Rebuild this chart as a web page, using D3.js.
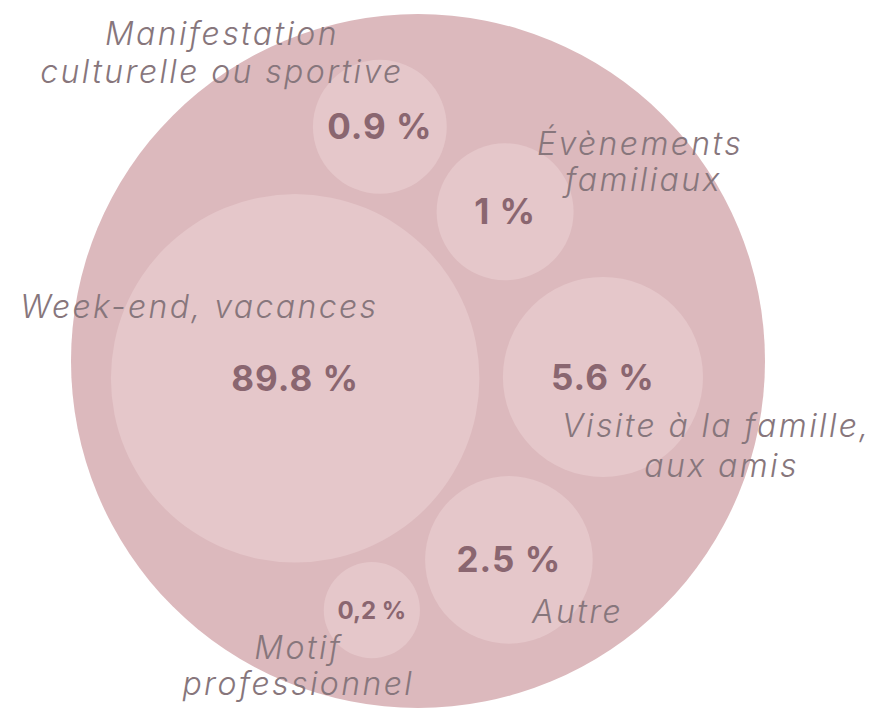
<!DOCTYPE html>
<meta charset="utf-8">
<style>

body {
  margin: 0;
  background: #fff;
}

.outer {
  fill: #dcb9bd;
}

.bubble {
  fill: #e5c7ca;
}

.value {
  font-family: Inter, "DejaVu Sans", sans-serif;
  font-weight: 700;
  fill: #8a6670;
  text-anchor: middle;
  letter-spacing: 1px;
}

.label {
  font-family: Inter, "DejaVu Sans", sans-serif;
  font-weight: 300;
  font-style: italic;
  fill: #87767c;
  text-anchor: middle;
  letter-spacing: 2.4px;
}

</style>
<body>
<script src="https://d3js.org/d3.v7.min.js"></script>
<script>

var width = 873,
    height = 708;

// data
var categories = ["Week-end, vacances", "Manifestation culturelle ou sportive", "Évènements familiaux",
                  "Visite à la famille, aux amis", "Autre", "Motif professionnel"];
var values = [89.8, 0.9, 1, 5.6, 2.5, 0.2];
var valueLabels = ["89.8 %", "0.9 %", "1 %", "5.6 %", "2.5 %", "0,2 %"];
var labelLines = [
  ["Week-end, vacances"],
  ["Manifestation", "culturelle ou sportive"],
  ["Évènements", "familiaux"],
  ["Visite à la famille,", "aux amis"],
  ["Autre"],
  ["Motif", "professionnel"]
];

// layout, in units of the outer circle radius (centre = 0,0)
var bubblePos = [[-0.354, 0.05], [-0.11, -0.675], [0.251, -0.43], [0.533, 0.046], [0.262, 0.573], [-0.133, 0.718]];
var labelPos = [
  [[-0.63, -0.125]],
  [[-0.565, -0.91], [-0.565, -0.8]],
  [[0.64, -0.595], [0.65, -0.49]],
  [[0.86, 0.22], [0.875, 0.335]],
  [[0.46, 0.755]],
  [[-0.345, 0.858], [-0.345, 0.962]]
];

var cx = 418, cy = 361, R = 347;

var x = d3.scaleLinear().domain([-1, 1]).range([cx - R, cx + R]),
    y = d3.scaleLinear().domain([-1, 1]).range([cy - R, cy + R]),
    r = d3.scalePow().exponent(0.22).domain([0, 1]).range([0, 68.5]);

var fontSize = d3.scaleThreshold().domain([0.5]).range([24, 35]);

var svg = d3.select("body").append("svg")
    .attr("width", width)
    .attr("height", height);

svg.append("circle")
    .attr("class", "outer")
    .attr("cx", x(0))
    .attr("cy", y(0))
    .attr("r", R);

var nodes = values.map(function(v, i) {
  return {name: categories[i], value: v, text: valueLabels[i], pos: bubblePos[i], lines: labelLines[i], lpos: labelPos[i]};
});

svg.selectAll(".bubble")
    .data(nodes)
  .enter().append("circle")
    .attr("class", "bubble")
    .attr("cx", function(d) { return x(d.pos[0]); })
    .attr("cy", function(d) { return y(d.pos[1]); })
    .attr("r", function(d) { return r(d.value); });

svg.selectAll(".value")
    .data(nodes)
  .enter().append("text")
    .attr("class", "value")
    .attr("x", function(d) { return x(d.pos[0]); })
    .attr("y", function(d) { return y(d.pos[1]); })
    .attr("dy", "0.36em")
    .style("font-size", function(d) { return fontSize(d.value) + "px"; })
    .style("letter-spacing", function(d) { return d.value < 0.5 ? "0px" : null; })
    .text(function(d) { return d.text; });

var labels = svg.selectAll(".labelgroup")
    .data(nodes)
  .enter().append("g")
    .attr("class", "labelgroup");

labels.selectAll("text")
    .data(function(d) { return d.lines.map(function(t, j) { return {t: t, p: d.lpos[j]}; }); })
  .enter().append("text")
    .attr("class", "label")
    .attr("x", function(d) { return x(d.p[0]); })
    .attr("y", function(d) { return y(d.p[1]); })
    .style("font-size", "32px")
    .text(function(d) { return d.t; });

</script>
